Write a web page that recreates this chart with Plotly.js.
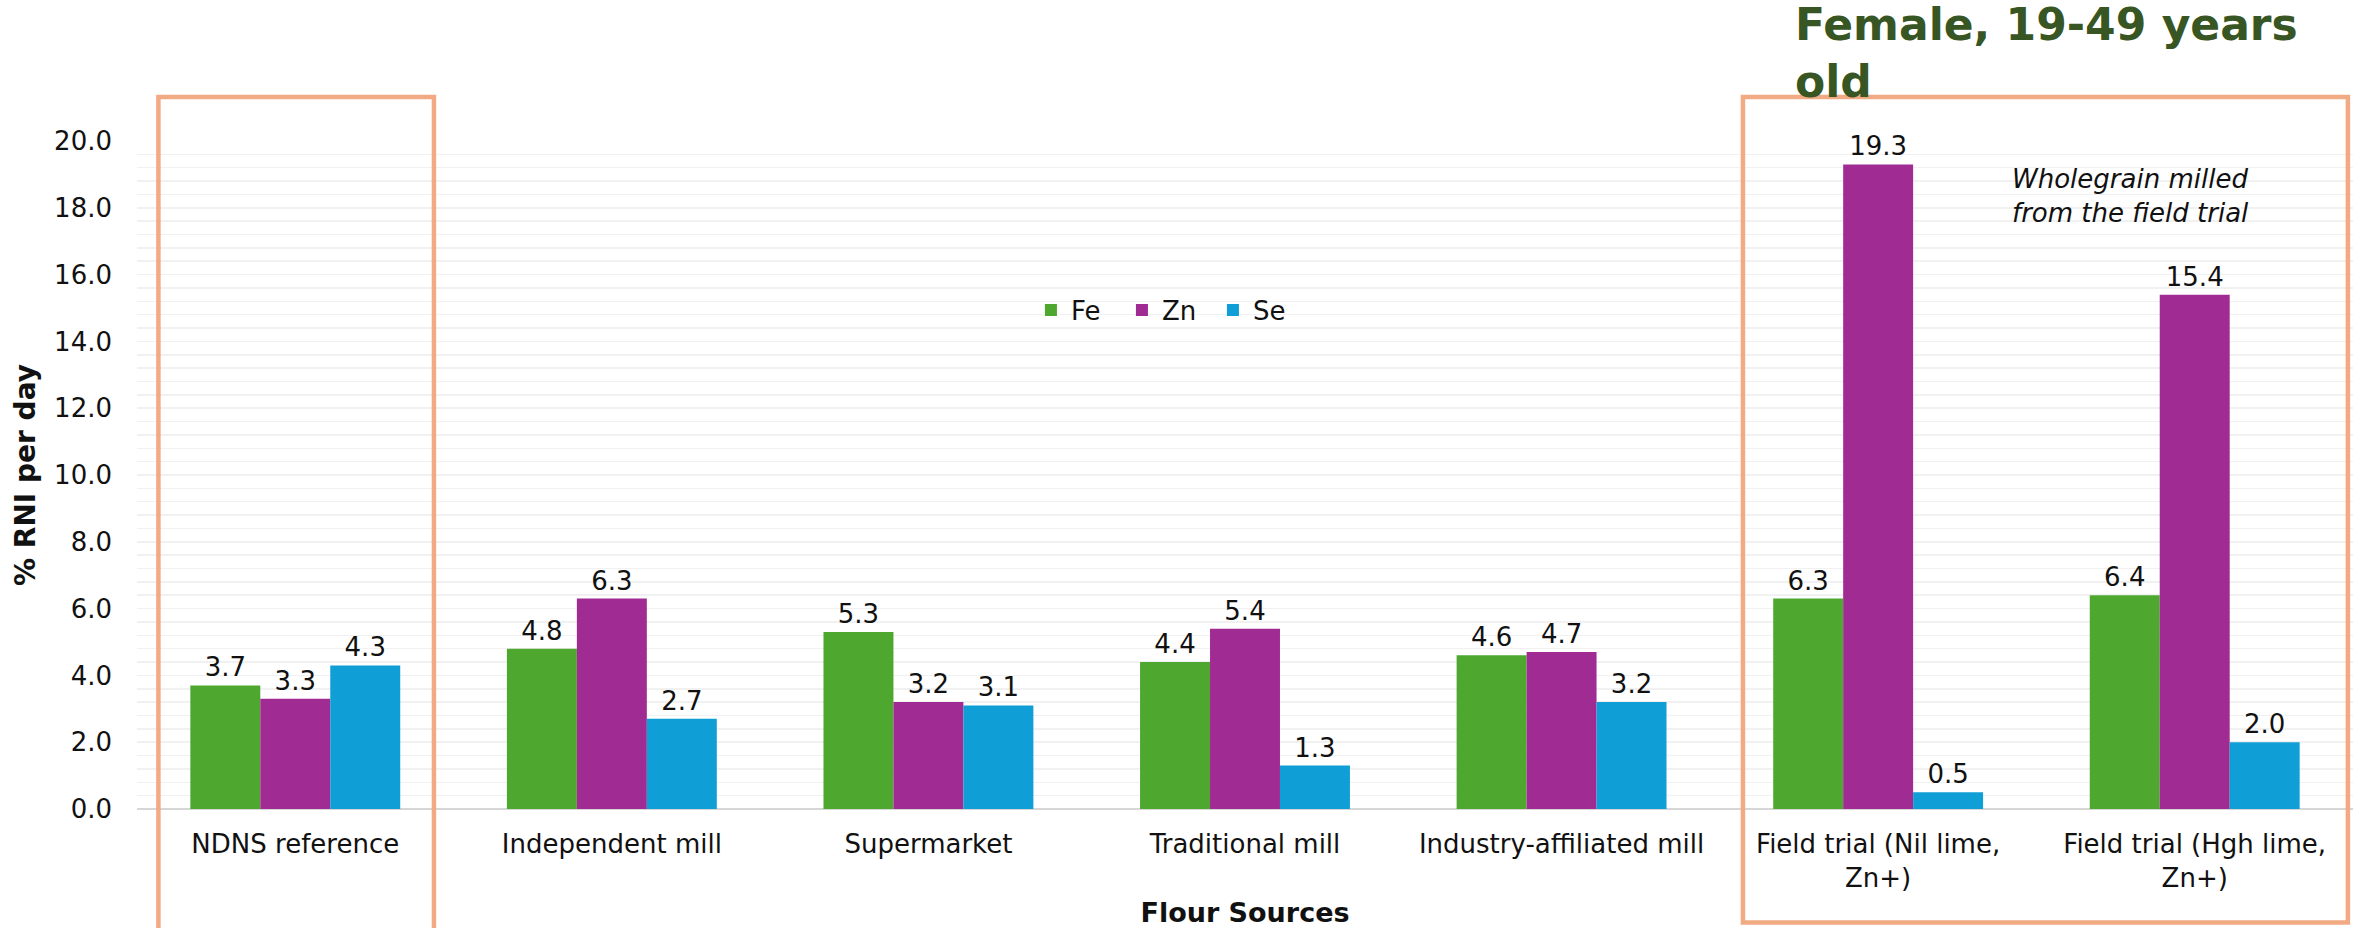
<!DOCTYPE html>
<html>
<head>
<meta charset="utf-8">
<script src="https://cdn.plot.ly/plotly-3.0.1.min.js"></script>
<style>
  html, body { margin: 0; padding: 0; background: #ffffff; }
  #chart { width: 2361px; height: 928px; }
</style>
</head>
<body>
<div id="chart"></div>
<script>
// Flour sources and % RNI per day for each micronutrient
var categories = [
  'NDNS reference',
  'Independent mill',
  'Supermarket',
  'Traditional mill',
  'Industry-affiliated mill',
  'Field trial (Nil lime,<br>Zn+)',
  'Field trial (Hgh lime,<br>Zn+)'
];
var feValues = [3.7, 4.8, 5.3, 4.4, 4.6, 6.3, 6.4];
var znValues = [3.3, 6.3, 3.2, 5.4, 4.7, 19.3, 15.4];
var seValues = [4.3, 2.7, 3.1, 1.3, 3.2, 0.5, 2.0];
var yTickValues = [0, 2, 4, 6, 8, 10, 12, 14, 16, 18, 20];

var FONT = 'DejaVu Sans, Verdana, sans-serif';
var TEXT_COLOR = '#111111';
var BOX_COLOR = '#F2AA84';

function barTrace(name, values, color) {
  return {
    type: 'bar',
    name: name,
    x: categories,
    y: values,
    marker: { color: color },
    text: values.map(function (v) { return v.toFixed(1); }),
    textposition: 'outside',
    textfont: { family: FONT, size: 26, color: TEXT_COLOR },
    constraintext: 'none',
    cliponaxis: false,
    hoverinfo: 'skip'
  };
}

var data = [
  barTrace('Fe', feValues, '#4EA72E'),
  barTrace('Zn', znValues, '#A02B93'),
  barTrace('Se', seValues, '#0F9ED5')
];

var layout = {
  width: 2361,
  height: 928,
  paper_bgcolor: '#ffffff',
  plot_bgcolor: '#ffffff',
  margin: { l: 137, r: 8, t: 141, b: 119, pad: 0 },
  font: { family: FONT, size: 26, color: TEXT_COLOR },
  barmode: 'group',
  bargap: 0.337,
  bargroupgap: 0,
  showlegend: true,
  title: {
    text: 'Female, 19-49 years<br>old',
    font: { family: FONT, size: 44, color: '#375623', weight: 'bold' },
    xref: 'container',
    yref: 'container',
    x: 1795 / 2361,
    xanchor: 'left',
    y: 1 - 40 / 928,
    yanchor: 'top'
  },
  legend: {
    orientation: 'h',
    x: 0.4034,
    xanchor: 'left',
    y: 0.747,
    yanchor: 'middle',
    bgcolor: 'rgba(0,0,0,0)',
    font: { family: FONT, size: 26, color: TEXT_COLOR },
    entrywidth: 46,
    entrywidthmode: 'pixels',
    traceorder: 'normal'
  },
  xaxis: {
    type: 'category',
    showgrid: false,
    showline: false,
    zeroline: false,
    ticks: '',
    tickfont: { family: FONT, size: 26, color: TEXT_COLOR },
    ticklabelstandoff: 17,
    title: {
      text: 'Flour Sources',
      font: { family: FONT, size: 27, color: TEXT_COLOR, weight: 'bold' },
      standoff: 22
    },
    fixedrange: true
  },
  yaxis: {
    range: [0, 20],
    tickvals: yTickValues,
    ticktext: yTickValues.map(function (v) { return v.toFixed(1); }),
    showgrid: true,
    gridcolor: '#F1F1F1',
    gridwidth: 1.5,
    minor: { dtick: 0.4, showgrid: true, gridcolor: '#F1F1F1', gridwidth: 1.5, ticks: '' },
    zeroline: true,
    zerolinecolor: '#D6D6D6',
    zerolinewidth: 2.5,
    showline: false,
    ticks: '',
    tickfont: { family: FONT, size: 26, color: TEXT_COLOR },
    ticklabelstandoff: 24,
    title: {
      text: '% RNI per day',
      font: { family: FONT, size: 28, color: TEXT_COLOR, weight: 'bold' },
      standoff: 10
    },
    fixedrange: true
  },
  shapes: [
    // reference group outline
    {
      type: 'rect', xref: 'paper', yref: 'paper', layer: 'above',
      x0: 0.00966, x1: 0.134, y0: -0.22, y1: 1.066,
      line: { color: BOX_COLOR, width: 4.5 }, fillcolor: 'rgba(0,0,0,0)'
    },
    // field trial group outline
    {
      type: 'rect', xref: 'paper', yref: 'paper', layer: 'above',
      x0: 0.7247, x1: 0.9977, y0: -0.170, y1: 1.066,
      line: { color: BOX_COLOR, width: 4.5 }, fillcolor: 'rgba(0,0,0,0)'
    },
    // white panel behind the note
    {
      type: 'rect', xref: 'paper', yref: 'paper', layer: 'below',
      x0: 0.8375, x1: 0.9725, y0: 0.859, y1: 0.982,
      line: { width: 0 }, fillcolor: '#ffffff'
    }
  ],
  annotations: [
    {
      text: '<i>Wholegrain milled<br>from the field trial</i>',
      xref: 'paper', yref: 'paper',
      x: 0.8452, xanchor: 'left',
      y: 0.9176, yanchor: 'middle',
      align: 'left',
      showarrow: false,
      font: { family: FONT, size: 26, color: TEXT_COLOR }
    }
  ]
};

Plotly.newPlot('chart', data, layout, { staticPlot: true, displayModeBar: false });
</script>
</body>
</html>
